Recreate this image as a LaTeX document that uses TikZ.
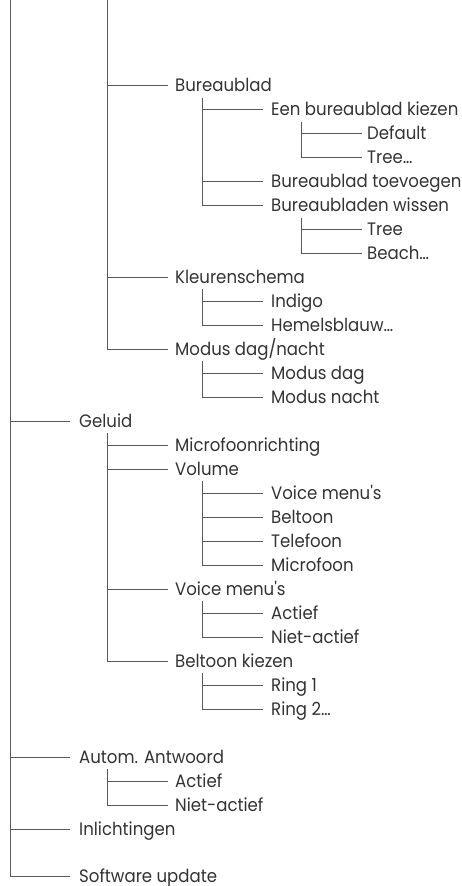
\documentclass[tikz,border=0pt]{standalone}
\usepackage{fontspec}
\setmainfont{Poppins}[Ligatures=TeXOff, FakeStretch=0.92]
\definecolor{ln}{HTML}{5A5A5A}
\definecolor{tx}{HTML}{333333}
\newcommand\tkid[3]{\draw[br] (#1) |- ([xshift=-#3pt]#2.west);}
\begin{document}
\begin{tikzpicture}[x=1pt,y=-1pt,
 item/.style={anchor=west, inner sep=0pt, text height=12.6pt, text depth=0pt,
   font=\fontsize{18}{20}\selectfont, text=tx},
 br/.style={draw=ln, line width=1pt}]
\useasboundingbox (0,0) rectangle (461,886);
% nodes
\node[item] (bur) at (175,85) {Bureaublad};
\node[item] (een) at (271,109) {Een bureaublad kiezen};
\node[item] (def) at (367,133) {Default};
\node[item] (treea) at (367,157) {Tree…};
\node[item] (toe) at (271,181) {Bureaublad toevoegen};
\node[item] (wis) at (271,205) {Bureaubladen wissen};
\node[item] (treeb) at (367,229) {Tree};
\node[item] (beach) at (367,253) {Beach…};
\node[item] (kleur) at (175,277) {Kleurenschema};
\node[item] (indigo) at (271,301) {Indigo};
\node[item] (hemel) at (271,325) {Hemelsblauw…};
\node[item] (modus) at (175,349) {Modus dag/nacht};
\node[item] (mdag) at (271,373) {Modus dag};
\node[item] (mnacht) at (271,397) {Modus nacht};
\node[item] (geluid) at (79,421) {Geluid};
\node[item] (mic) at (175,445) {Microfoonrichting};
\node[item] (vol) at (175,469) {Volume};
\node[item] (vvm) at (271,493) {Voice menu's};
\node[item] (vbel) at (271,517) {Beltoon};
\node[item] (vtel) at (271,541) {Telefoon};
\node[item] (vmic) at (271,565) {Microfoon};
\node[item] (vm) at (175,589) {Voice menu's};
\node[item] (vma) at (271,613) {Actief};
\node[item] (vmn) at (271,637) {Niet-actief};
\node[item] (bk) at (175,661) {Beltoon kiezen};
\node[item] (ringa) at (271,685) {Ring 1};
\node[item] (ringb) at (271,709) {Ring 2…};
\node[item] (aut) at (79,757) {Autom. Antwoord};
\node[item] (auta) at (175,781) {Actief};
\node[item] (autn) at (175,805) {Niet-actief};
\node[item] (inl) at (79,829) {Inlichtingen};
\node[item] (sw) at (79,876) {Software update};
% spine tops
\coordinate (sroot) at (10,0);
\coordinate (stop) at (107,0);
\path (bur.west) ++(27,13) coordinate (sbur);
\path (een.west) ++(30,13) coordinate (seen);
\path (wis.west) ++(30,13) coordinate (swis);
\path (kleur.west) ++(27,12) coordinate (skleur);
\path (modus.west) ++(27,12) coordinate (smodus);
\path (geluid.west) ++(28,12) coordinate (sgeluid);
\path (vol.west) ++(27,12) coordinate (svol);
\path (vm.west) ++(27,12) coordinate (svm);
\path (bk.west) ++(27,12) coordinate (sbk);
\path (aut.west) ++(28,12) coordinate (saut);
% connectors
\tkid{sroot}{geluid}{9}
\tkid{sroot}{aut}{9}
\tkid{sroot}{inl}{9}
\tkid{sroot}{sw}{9}
\tkid{stop}{bur}{7}
\tkid{stop}{kleur}{7}
\tkid{stop}{modus}{7}
\tkid{sbur}{een}{8}
\tkid{sbur}{toe}{8}
\tkid{sbur}{wis}{8}
\tkid{seen}{def}{5}
\tkid{seen}{treea}{5}
\tkid{swis}{treeb}{5}
\tkid{swis}{beach}{5}
\tkid{skleur}{indigo}{8}
\tkid{skleur}{hemel}{8}
\tkid{smodus}{mdag}{8}
\tkid{smodus}{mnacht}{8}
\tkid{sgeluid}{mic}{7}
\tkid{sgeluid}{vol}{7}
\tkid{sgeluid}{vm}{7}
\tkid{sgeluid}{bk}{7}
\tkid{svol}{vvm}{8}
\tkid{svol}{vbel}{8}
\tkid{svol}{vtel}{8}
\tkid{svol}{vmic}{8}
\tkid{svm}{vma}{8}
\tkid{svm}{vmn}{8}
\tkid{sbk}{ringa}{8}
\tkid{sbk}{ringb}{8}
\tkid{saut}{auta}{7}
\tkid{saut}{autn}{7}
\end{tikzpicture}
\end{document}
